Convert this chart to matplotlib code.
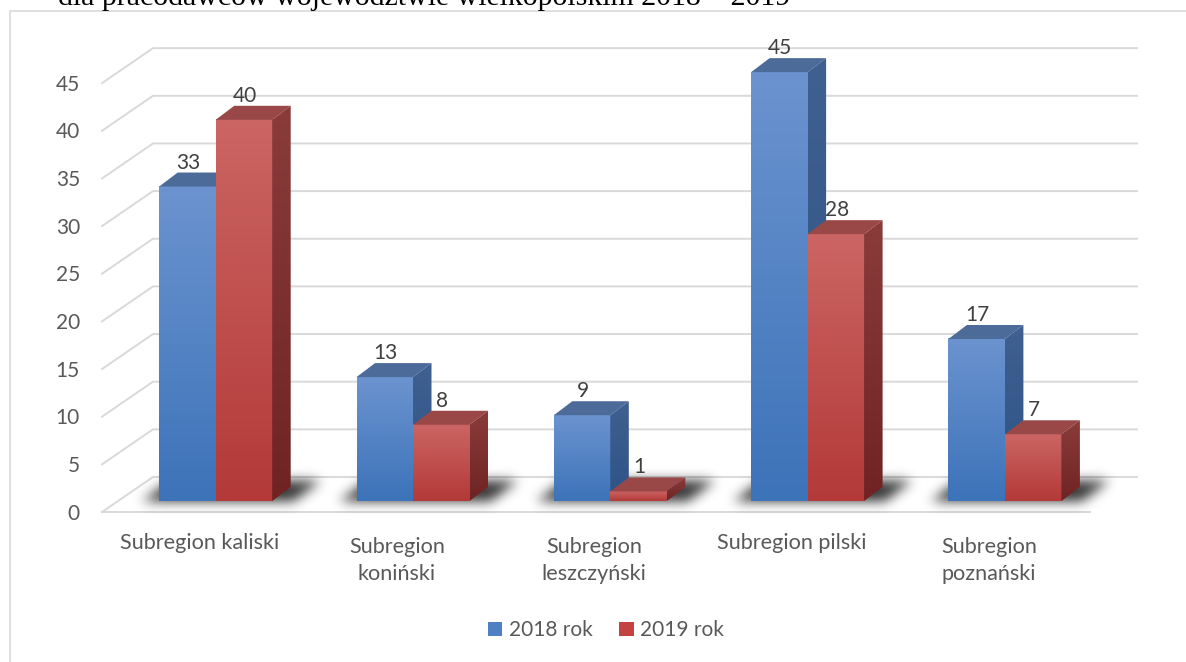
import numpy as np
import matplotlib
matplotlib.use('Agg')
import matplotlib.pyplot as plt
from matplotlib.patches import Polygon, Patch, Rectangle

plt.rcParams['font.family'] = ['Lato', 'DejaVu Sans']

# dane
categories = ['Subregion kaliski', 'Subregion\nkoniński', 'Subregion\nleszczyński',
              'Subregion pilski', 'Subregion\npoznański']
series = ['2018 rok', '2019 rok']
values_2018 = [33, 13, 9, 45, 17]
values_2019 = [40, 8, 1, 28, 7]
yticks = [0, 5, 10, 15, 20, 25, 30, 35, 40, 45]
title = 'dla pracodawców województwie wielkopolskim 2018 – 2019'

# skala: piksele na kategorię i na jednostkę wartości
W, H = 1186, 662
PX, PY = 197.3, 9.53
X0, Y0 = 215.7, 501          # piksel środka pierwszej grupy i podstawy słupków

def dx(p):
    return p / PX

def dy(p):
    return p / PY

BW = dx(56.5)                # szerokość słupka
DDX, DDY = dx(18.5), dy(14)  # głębokość słupka

colors = {
    '2018 rok': dict(front=('#3d73b9', '#6b93cf'), side=('#2e5387', '#3f6090'),
                     top='#4c6b98', legend='#4f80c4'),
    '2019 rok': dict(front=('#b33a38', '#cb6563'), side=('#6f2323', '#8a3c3b'),
                     top='#9a4847', legend='#c4423f'),
}
text_gray = '#595959'
grid_gray = '#d9d9d9'

fig = plt.figure(figsize=(W / 100, H / 100), dpi=100)
ax = fig.add_axes([0, 0, 1, 1])
ax.set_autoscale_on(False)
ax.set_xlim(-X0 / PX, (W - X0) / PX)
ax.set_ylim(-(H - Y0) / PY, Y0 / PY)
ax.axis('off')

# ramka wykresu
fig.add_artist(Rectangle((10 / W, -0.1), 1.2, 1 - 11 / H + 0.1, transform=fig.transFigure,
                         fill=False, edgecolor='#d9d9d9', lw=1.2))

# tytuł (ucięty u góry, jak na oryginale)
fig.text(790 / W, 1 - 5 / H, title, ha='right', va='baseline', color='black',
         fontsize=21.5, family=['Liberation Serif', 'DejaVu Serif'])

# siatka: ściana tylna + ukośne linie podłogi
x_front = -dx(X0 - 102)
x_back = -dx(X0 - 153)
x_end = dx(1137 - X0)
back_off, front_off = dy(24), -dy(11)
for v in yticks:
    ax.plot([x_front, x_back, x_end], [v + front_off, v + back_off, v + back_off],
            color=grid_gray, lw=1.4, zorder=1, solid_joinstyle='miter')
    ax.text(-dx(X0 - 80), v + front_off - dy(1.5), str(v), ha='right', va='center',
            color=text_gray, fontsize=15)
ax.plot([x_front, dx(1090 - X0)], [front_off, front_off], color=grid_gray, lw=1.4, zorder=1)

# cienie pod słupkami (rozmyty równoległobok)
xs = np.arange(ax.get_xlim()[0], ax.get_xlim()[1], 1 / PX)
ys = np.arange(-dy(25), dy(45), 1 / PY)
XX, YY = np.meshgrid(xs, ys)
mask = np.zeros_like(XX)
ratio = DDX / DDY
yf, yb = -dy(1), dy(20)
for i in range(len(categories)):
    xl = i - BW - dx(18)
    xr = i + BW + dx(20)
    shift = (YY - yf) * ratio
    inside = (YY >= yf) & (YY <= yb) & (XX >= xl + shift) & (XX <= xr + shift)
    mask[inside] = 1.0
k = np.arange(-18, 19)
kern = np.exp(-k ** 2 / (2 * 6.0 ** 2))
kern /= kern.sum()
mask = np.apply_along_axis(lambda r: np.convolve(r, kern, mode='same'), 1, mask)
mask = np.apply_along_axis(lambda c: np.convolve(c, kern, mode='same'), 0, mask)
shadow = np.zeros(mask.shape + (4,))
shadow[..., 3] = np.clip(mask * 0.8, 0, 1)
ax.imshow(shadow, origin='lower', extent=(xs[0], xs[-1], ys[0], ys[-1]), aspect='auto',
          interpolation='bilinear', zorder=2)


def gradient(c_bottom, c_top, n=64):
    a = np.array(matplotlib.colors.to_rgb(c_bottom))
    b = np.array(matplotlib.colors.to_rgb(c_top))
    t = np.linspace(0, 1, n)[:, None]
    return (a + (b - a) * t)[:, None, :]


def bar3d(x0, v, col, z):
    x1 = x0 + BW
    # przód
    ax.imshow(gradient(*col['front']), origin='lower', extent=(x0, x1, 0, v),
              aspect='auto', interpolation='bilinear', zorder=z)
    # góra
    ax.add_patch(Polygon([(x0, v), (x1, v), (x1 + DDX, v + DDY), (x0 + DDX, v + DDY)],
                         closed=True, facecolor=col['top'], edgecolor='none', zorder=z))
    # bok
    side = Polygon([(x1, 0), (x1, v), (x1 + DDX, v + DDY), (x1 + DDX, DDY)],
                   closed=True, facecolor='none', edgecolor='none', transform=ax.transData)
    ax.add_patch(side)
    im = ax.imshow(gradient(*col['side']), origin='lower', extent=(x1, x1 + DDX, 0, v + DDY),
                   aspect='auto', interpolation='bilinear', zorder=z)
    im.set_clip_path(side)


z = 3
for i in range(len(categories)):
    for j, (name, vals) in enumerate(zip(series, [values_2018, values_2019])):
        v = vals[i]
        x0 = i - BW + j * BW
        bar3d(x0, v, colors[name], z)
        z += 1
        ax.text(x0 + BW / 2 + dx(1), v + DDY + dy(4), str(v), ha='center', va='baseline',
                color='#404040', fontsize=15, zorder=50)
    # etykieta kategorii: baseline pierwszej linii ok. 549 px
    nlines = categories[i].count('\n')
    ax.text(i - dx(16), -dy(549 + 31.5 * nlines - Y0), categories[i], ha='center',
            va='baseline', color=text_gray, fontsize=15.6, linespacing=1.45, zorder=50)

handles = [Patch(facecolor=colors[s]['legend'], edgecolor='none') for s in series]
ax.legend(handles, series, loc='center', bbox_to_anchor=(606 / W, 1 - 630 / H),
          bbox_transform=fig.transFigure, ncol=2, frameon=False, fontsize=15,
          handlelength=0.68, handleheight=0.68, handletextpad=0.3, columnspacing=1.3,
          labelcolor=text_gray)

fig.savefig('out.png', dpi=100)
